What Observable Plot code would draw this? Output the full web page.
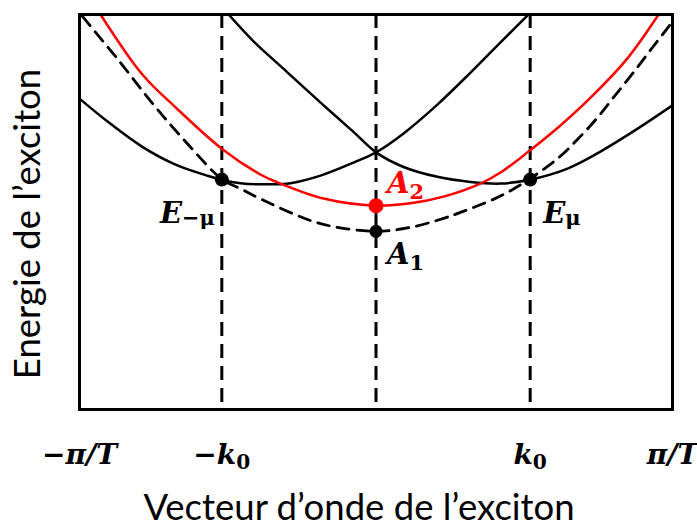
<!DOCTYPE html>
<html><head><meta charset="utf-8">
<script src="https://cdn.jsdelivr.net/npm/d3@7"></script>
<script src="https://cdn.jsdelivr.net/npm/@observablehq/plot@0.6"></script>
<style>html,body{margin:0;padding:0;background:#fff}</style>
</head><body><div id="chart"></div>
<script>
// ---- data ----
const xLabel = "Vecteur d’onde de l’exciton";
const yLabel = "Energie de l’exciton";

const tickPos  = [-1, -0.52, 0.52, 1];
const tickMain = ["−π/T", "−k", "k", "π/T"];
const tickSub  = ["", "0", "0", ""];

const guideX = [-0.52, 0, 0.52];

// solid black branch centred on -k0
const branchMinusX = [-1.0, -0.902, -0.788, -0.676, -0.565, -0.518, -0.457, -0.373, -0.288, -0.187, -0.076, 0.0, 0.093, 0.207, 0.319, 0.430, 0.514];
const branchMinusY = [78.7, 72.7, 66.5, 62.0, 59.1, 58.1, 57.3, 57.0, 57.3, 59.2, 62.5, 65.1, 69.9, 77.2, 85.3, 93.7, 100];
// solid black branch centred on +k0
const branchPlusX = [-0.497, -0.413, -0.298, -0.187, -0.076, 0.0, 0.093, 0.207, 0.319, 0.420, 0.514, 0.646, 0.757, 0.868, 1.0];
const branchPlusY = [100, 93.2, 85.3, 77.7, 70.3, 65.1, 61.4, 58.9, 57.6, 57.2, 58.1, 61.0, 65.3, 70.4, 77.0];
// red branch (A2)
const redX = [-0.929, -0.788, -0.676, -0.518, -0.390, -0.332, -0.177, 0.0, 0.116, 0.228, 0.352, 0.420, 0.511, 0.622, 0.734, 0.848, 0.953];
const redY = [100, 84.8, 76.5, 65.9, 59.5, 57.5, 53.4, 51.6, 52.2, 53.9, 57.2, 60.0, 65.1, 71.9, 79.7, 88.9, 100];
// dashed black branch (A1)
const dashX = [-0.990, -0.868, -0.754, -0.642, -0.518, -0.457, -0.400, -0.231, -0.143, 0.0, 0.116, 0.228, 0.285, 0.396, 0.454, 0.511, 0.612, 0.680, 0.747, 0.801, 0.868, 0.932, 1.0];
const dashY = [99.5, 88.4, 77.5, 67.8, 58.2, 55.9, 53.7, 48.1, 46.3, 45.1, 46.1, 48.4, 49.9, 53.2, 55.4, 58.0, 63.5, 68.4, 73.9, 79.0, 85.3, 91.6, 98.2];

// marked points
const pointX    = [-0.52, 0.52, 0, 0];
const pointY    = [58.2, 58.2, 51.6, 45.1];
const pointMain = ["E", "E", "A", "A"];
const pointSub  = ["−μ", "μ", "2", "1"];

// ---- build tables ----
const pts = (X, Y) => X.map((x, i) => ({x, y: Y[i]}));
const ticks = tickPos.map((x, i) => ({x, main: tickMain[i], sub: tickSub[i]}));
const points = pointX.map((x, i) => ({x, y: pointY[i], main: pointMain[i], sub: pointSub[i]}));
const subOf = new Map([...ticks, ...points].map(d => [d.main + d.sub, d.sub]));

const mathFont = {fontFamily: "DejaVu Serif", fontWeight: "bold", fontStyle: "italic"};
const sansFont = {fontFamily: "Lato", fontSize: 36.5, fill: "black"};
const lab = d => d.main + d.sub;
const ptLabel = {x: "x", y: "y", text: "main", ariaLabel: lab, ...mathFont, fontSize: 29, lineAnchor: "bottom"};

const curveOpts = {x: "x", y: "y", curve: "catmull-rom", strokeWidth: 2.5, clip: true};

const chart = Plot.plot({
  width: 697, height: 530,
  marginLeft: 79, marginRight: 25, marginTop: 14, marginBottom: 121,
  x: {domain: [-1, 1], axis: null},
  y: {domain: [0, 100], axis: null},
  style: {background: "white", overflow: "visible"},
  marks: [
    Plot.ruleX(guideX, {stroke: "black", strokeWidth: 3, strokeDasharray: "14,8"}),
    Plot.line(pts(branchMinusX, branchMinusY), {...curveOpts, stroke: "black"}),
    Plot.line(pts(branchPlusX, branchPlusY), {...curveOpts, stroke: "black"}),
    Plot.line(pts(dashX, dashY), {...curveOpts, stroke: "black", strokeWidth: 2.8, strokeDasharray: "12,8"}),
    Plot.line(pts(redX, redY), {...curveOpts, stroke: "#ff0000"}),
    Plot.frame({stroke: "black", strokeWidth: 3}),
    // points
    Plot.dot(points.filter(d => d.main === "E"), {x: "x", y: "y", r: 7, fill: "black"}),
    Plot.dot(points.filter(d => d.sub === "2"), {x: "x", y: "y", r: 7.5, fill: "#ff0000"}),
    Plot.dot(points.filter(d => d.sub === "1"), {x: "x", y: "y", r: 6.5, fill: "black"}),
    // point labels
    Plot.text(points.filter(d => d.sub === "−μ"), {...ptLabel, textAnchor: "end", dx: -7, dy: 43, fill: "black"}),
    Plot.text(points.filter(d => d.sub === "μ"), {...ptLabel, textAnchor: "start", dx: 13, dy: 43, fill: "black"}),
    Plot.text(points.filter(d => d.sub === "2"), {...ptLabel, textAnchor: "start", dx: 11, dy: -13, fill: "#ff0000"}),
    Plot.text(points.filter(d => d.sub === "1"), {...ptLabel, textAnchor: "start", dx: 11, dy: 33, fill: "black"}),
    // tick labels
    Plot.text(ticks, {x: "x", frameAnchor: "bottom", text: "main", ariaLabel: lab, ...mathFont, fontSize: 28, textAnchor: "middle", lineAnchor: "bottom", dy: 54, fill: "black"}),
    // axis titles
    Plot.text([xLabel], {frameAnchor: "bottom", text: d => d, ...sansFont, textAnchor: "middle", lineAnchor: "bottom", dx: -17, dy: 110}),
    Plot.text([yLabel], {frameAnchor: "left", text: d => d, ...sansFont, textAnchor: "middle", rotate: -90, lineAnchor: "bottom", dx: -40, dy: 12})
  ]
});

// subscripts as real text (tspans)
d3.select(chart).selectAll("text[aria-label]").each(function () {
  const key = this.getAttribute("aria-label");
  const sub = subOf.get(key);
  if (!sub) return;
  d3.select(this).append("tspan")
    .attr("font-style", "normal")
    .attr("font-size", "0.72em")
    .attr("dy", /[0-9]/.test(sub) ? "0.28em" : "0.1em")
    .text(sub);
});

document.getElementById("chart").appendChild(chart);
</script>
</body></html>
